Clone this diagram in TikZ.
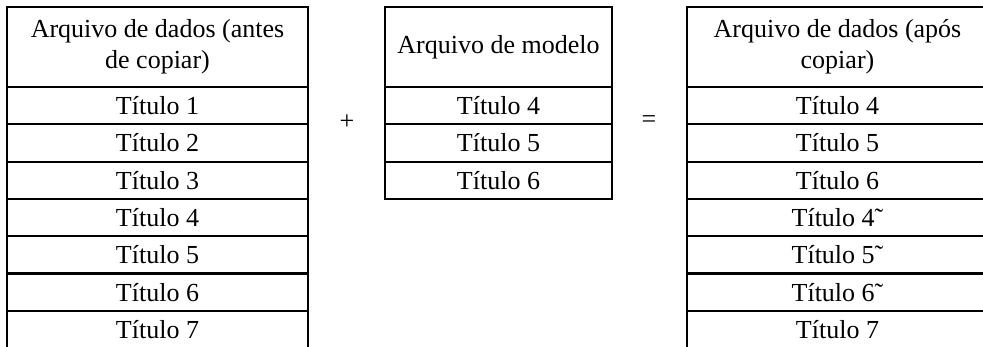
\documentclass[tikz,border=0pt]{standalone}
\usepackage{fontspec}
\setmainfont{Liberation Serif}
\usetikzlibrary{positioning}

\begin{document}
\begin{tikzpicture}[x=1pt, y=-1pt,
    txt/.style={font=\fontsize{26}{31}\selectfont},
    cell/.style={txt, draw, line width=2.2pt, outer sep=0pt, inner sep=0pt, minimum height=37.3pt},
    head/.style={cell, minimum height=80pt, align=center}]
    \clip (0,0) rectangle (983,346);

    % Data file before copying
    \node[head, minimum width=301pt, anchor=north] (lh) at (157.5,7) {Arquivo de dados (antes\\de copiar)};
    \node[cell, minimum width=301pt, below=0pt of lh] (l1) {Título 1};
    \foreach \i [count=\j from 1] in {2,...,7}
        \node[cell, minimum width=301pt, below=0pt of l\j] (l\i) {Título \i};

    % Template file
    \node[head, minimum width=227pt, anchor=north] (mh) at (498.5,7) {Arquivo de modelo};
    \node[cell, minimum width=227pt, below=0pt of mh] (m4) {Título 4};
    \node[cell, minimum width=227pt, below=0pt of m4] (m5) {Título 5};
    \node[cell, minimum width=227pt, below=0pt of m5] (m6) {Título 6};

    % Data file after copying
    \node[head, minimum width=301pt, anchor=north] (rh) at (837.5,7) {Arquivo de dados (após\\copiar)};
    \node[cell, minimum width=301pt, below=0pt of rh] (r1) {Título 4};
    \foreach \t [count=\i from 2, count=\j from 1] in {Título 5, Título 6, Título 4˜, Título 5˜, Título 6˜, Título 7}
        \node[cell, minimum width=301pt, below=0pt of r\j] (r\i) {\t};

    \node[txt] (plus) at (347,122) {+};
    \node[txt] (eq) at (649,122) {=};
\end{tikzpicture}
\end{document}
